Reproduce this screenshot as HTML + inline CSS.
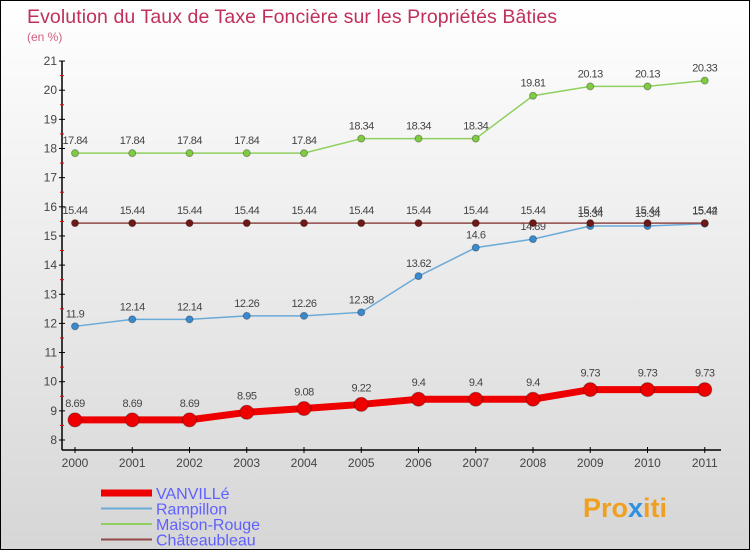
<!DOCTYPE html>
<html><head><meta charset="utf-8"><style>
body{margin:0}
#c{width:750px;height:550px;position:relative;box-sizing:border-box;border:1px solid #000;background:linear-gradient(#fff,#d6d6d6);font-family:"Liberation Sans",sans-serif;overflow:hidden}
</style></head><body>
<div id="c">
<svg id="s" width="748" height="548" style="position:absolute;left:0;top:0">
<text x="26" y="22" font-size="19.5" fill="#c0305a" textLength="530">Evolution du Taux de Taxe Foncière sur les Propriétés Bâties</text>
<text x="26" y="40" font-size="12" fill="#d06080">(en %)</text>
<text x="582" y="516" font-size="27" font-weight="bold" fill="#f0a020">Pro<tspan fill="#3090e0">x</tspan>iti</text>
</svg>
</div>
<script>
const years=["2000","2001","2002","2003","2004","2005","2006","2007","2008","2009","2010","2011"];
const vanville=[8.69,8.69,8.69,8.95,9.08,9.22,9.4,9.4,9.4,9.73,9.73,9.73];
const rampillon=[11.9,12.14,12.14,12.26,12.26,12.38,13.62,14.6,14.89,15.34,15.34,15.42];
const maison=[17.84,17.84,17.84,17.84,17.84,18.34,18.34,18.34,19.81,20.13,20.13,20.33];
const chateau=[15.44,15.44,15.44,15.44,15.44,15.44,15.44,15.44,15.44,15.44,15.44,15.44];
const yTicks=[8,9,10,11,12,13,14,15,16,17,18,19,20,21];
const NS="http://www.w3.org/2000/svg",s=document.getElementById('s');
const X=i=>74+i*57.25, Y=v=>439-(v-8)*29.15;
function el(t,a,p){const e=document.createElementNS(NS,t);for(const k in a)e.setAttribute(k,a[k]);(p||s).appendChild(e);return e;}
let ax=el('line',{x1:61,y1:60,x2:61,y2:449,stroke:'#000','stroke-width':1.5});

let xa=el('line',{x1:61,y1:449,x2:720,y2:449,stroke:'#000','stroke-width':1.5});

yTicks.forEach(v=>{el('line',{x1:58,x2:64,y1:Y(v),y2:Y(v),stroke:'#000'});
 if(v<21)el('line',{x1:59,x2:63,y1:Y(v+0.5),y2:Y(v+0.5),stroke:'#e00'});
 const t=el('text',{x:56,y:Y(v)+4,'font-size':12,fill:'#444','text-anchor':'end'});t.textContent=v;
 });
years.forEach((y,i)=>{el('line',{x1:X(i),x2:X(i),y1:446,y2:452,stroke:'#000'});
 const t=el('text',{x:X(i),y:466,'font-size':12,fill:'#444','text-anchor':'middle'});t.textContent=y;
 });
function series(d,col,w,r,dot,name,off){
 const g=el('g',{});
 el('polyline',{points:d.map((v,i)=>X(i)+','+Y(v)).join(' '),fill:'none',stroke:col,'stroke-width':w},g);
 d.forEach((v,i)=>{const c=el('circle',{cx:X(i),cy:Y(v),r:r,fill:dot,stroke:'rgba(0,0,0,0.3)'},g);
  
  const t=el('text',{x:X(i),y:Y(v)-off,'font-size':11,fill:'#444','text-anchor':'middle','letter-spacing':'-0.5'},g);t.textContent=v;});
}
series(maison,'#90d060',1.5,3.5,'#80cc40','maison-rouge',9);
series(rampillon,'#6aaad8',1.5,3.5,'#3a8ad0','rampillon',9);
series(chateau,'#904848',1.5,3.5,'#701818','chateaubleau',9);
series(vanville,'#ee0000',7,7,'#ee0000','vanville',13);
const leg=[["VANVILLé","#ee0000",7],["Rampillon","#6aaad8",2],["Maison-Rouge","#90d060",2],["Châteaubleau","#904848",2]];
leg.forEach((l,i)=>{const y=492+i*15.5;const g=el('g',{});
 el('line',{x1:100,x2:151,y1:y,y2:y,stroke:l[1],'stroke-width':l[2]},g);
 const t=el('text',{x:155,y:y+6,'font-size':16,fill:'#6060ff'},g);t.textContent=l[0];});
</script>
</body></html>
